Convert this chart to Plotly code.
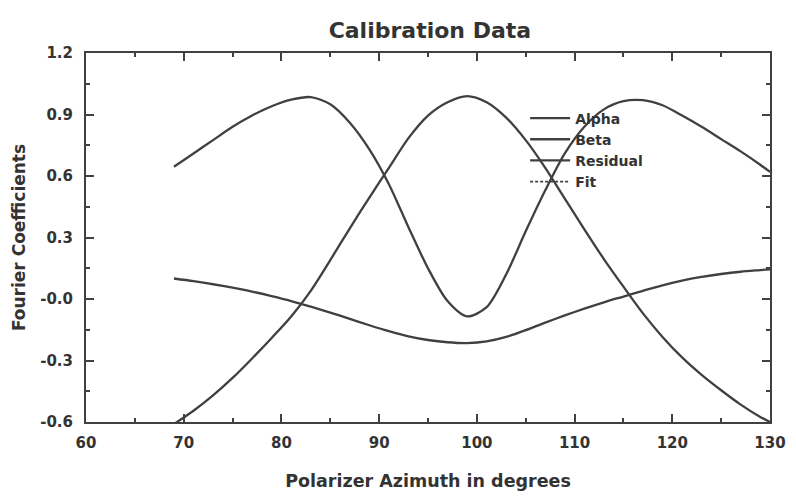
import plotly.graph_objects as go

azimuth = [69, 71, 73, 75, 77, 79, 81, 83, 85, 87, 89, 91, 93, 95, 97, 99,
           101, 103, 105, 107, 109, 111, 113, 115, 117, 119, 121, 123, 125, 127, 129, 130]

alpha = [0.645, 0.71, 0.775, 0.84, 0.895, 0.94, 0.972, 0.985, 0.95, 0.86, 0.73, 0.56, 0.35, 0.15, -0.01, -0.085,
         -0.04, 0.12, 0.33, 0.53, 0.71, 0.84, 0.925, 0.965, 0.97, 0.945, 0.895, 0.84, 0.78, 0.72, 0.655, 0.62]

beta = [-0.61, -0.545, -0.47, -0.385, -0.29, -0.19, -0.085, 0.04, 0.19, 0.345, 0.495, 0.64, 0.785, 0.895, 0.96, 0.99,
        0.96, 0.885, 0.775, 0.64, 0.49, 0.34, 0.195, 0.06, -0.07, -0.185, -0.285, -0.37, -0.445, -0.515, -0.575, -0.60]

residual = [0.10, 0.087, 0.072, 0.055, 0.036, 0.014, -0.01, -0.037, -0.066, -0.097, -0.128, -0.157, -0.182, -0.20, -0.211, -0.215,
            -0.207, -0.185, -0.152, -0.115, -0.08, -0.047, -0.016, 0.012, 0.04, 0.067, 0.09, 0.108, 0.122, 0.133, 0.141, 0.145]

x_ticks = [60, 70, 80, 90, 100, 110, 120, 130]
y_tick_vals = [1.2, 0.9, 0.6, 0.3, 0.0, -0.3, -0.6]
y_tick_text = ["1.2", "0.9", "0.6", "0.3", "-0.0", "-0.3", "-0.6"]

INK = "#404040"
TXT = "#333333"
FONT = "DejaVu Sans"

fig = go.Figure()
for name, vals in [("Alpha", alpha), ("Beta", beta), ("Residual", residual)]:
    fig.add_trace(go.Scatter(x=azimuth, y=vals, mode="lines", name=name,
                             line=dict(color=INK, width=2.3, shape="spline", smoothing=0.8)))
fig.add_trace(go.Scatter(x=[None], y=[None], mode="lines", name="Fit",
                         line=dict(color=INK, width=1.6, dash="3px,2px")))

axis_common = dict(showline=True, linecolor=INK, linewidth=2, mirror="ticks",
                   ticks="inside", ticklen=8, tickwidth=1.5, tickcolor=INK,
                   showgrid=False, zeroline=False, automargin=False,
                   tickfont=dict(family=FONT, size=15, color=TXT, weight="bold"))

fig.update_layout(
    width=796, height=498,
    margin=dict(l=78, r=34, t=45, b=84),
    paper_bgcolor="white", plot_bgcolor="white",
    title=dict(text="Calibration Data", x=0.530, xanchor="center", xref="container",
               y=0.956, yanchor="middle",
               font=dict(family=FONT, size=22, color=TXT, weight="bold")),
    xaxis=dict(range=[60, 130], tickvals=x_ticks, ticklabelstandoff=6,
               minor=dict(dtick=5, ticks="inside", ticklen=4, tickcolor=INK),
               title=dict(text="Polarizer Azimuth in degrees", standoff=24,
                          font=dict(family=FONT, size=17.5, color=TXT, weight="bold")),
               **axis_common),
    yaxis=dict(range=[-0.6, 1.2], tickvals=y_tick_vals, ticktext=y_tick_text,
               ticklabelstandoff=8,
               minor=dict(dtick=0.15, ticks="inside", ticklen=4, tickcolor=INK),
               title=dict(text="Fourier Coefficients", standoff=10,
                          font=dict(family=FONT, size=17, color=TXT, weight="bold")),
               **axis_common),
    legend=dict(x=0.642, y=0.866, xanchor="left", yanchor="top",
                bgcolor="rgba(0,0,0,0)", itemwidth=40,
                font=dict(family=FONT, size=14, color=TXT, weight="bold"),
                tracegroupgap=0),
    showlegend=True,
)

fig.write_html("out.html")
